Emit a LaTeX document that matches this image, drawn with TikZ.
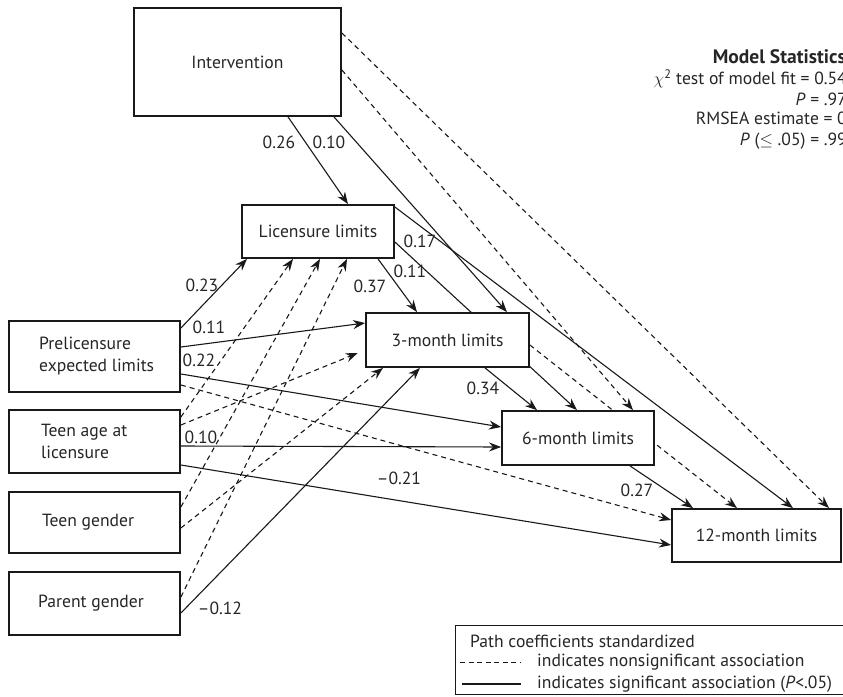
\documentclass[tikz,border=0pt]{standalone}
\usepackage{fontspec}
\setmainfont{PT Sans}
\usetikzlibrary{arrows.meta,calc}
\pgfdeclarelayer{bg}
\pgfsetlayers{bg,main}
\begin{document}
\begin{tikzpicture}[x=1pt,y=-1pt,
  box/.style={draw=black!90, line width=1.8pt, fill=white, inner sep=0pt, font=\fontsize{17.6}{22}\selectfont, text=black!85},
  lbl/.style={font=\fontsize{17.6}{22}\selectfont, inner sep=0pt, text=black!85},
  sig/.style={line width=1.1pt, draw=black!90, -{Stealth[length=12pt,width=9pt]}},
  ns/.style={sig, dash pattern=on 5pt off 4pt},
]
\useasboundingbox (0,0) rectangle (843,696);

% boxes
\node[box, minimum width=207pt, minimum height=108pt] (interv) at (237.5,62) {Intervention};
\node[box, minimum width=152pt, minimum height=53pt] (lic) at (318,231.5) {Licensure limits};
\node[box, minimum width=163pt, minimum height=54pt] (m3) at (447.5,340) {3-month limits};
\node[box, minimum width=152pt, minimum height=54pt] (m6) at (578,438) {6-month limits};
\node[box, minimum width=169pt, minimum height=53pt] (m12) at (756.5,535.5) {12-month limits};
\node[box, minimum width=171pt, minimum height=71pt] (pre) at (94.5,356.5) {};
\node[box, minimum width=171pt, minimum height=63pt] (age) at (94.5,441.5) {};
\node[box, minimum width=171pt, minimum height=61pt] (tg) at (94.5,522.5) {};
\node[box, minimum width=171pt, minimum height=63pt] (pg) at (94.5,603.5) {};
\node[lbl, anchor=west, align=left] (pret) at (39,356.5) {Prelicensure\\expected limits};
\node[lbl, anchor=west, align=left] (aget) at (41,441.5) {Teen age at\\licensure};
\node[lbl, anchor=west] (tgt) at (42,522.5) {Teen gender};
\node[lbl, anchor=west] (pgt) at (38,603.5) {Parent gender};

% connectors
\begin{pgfonlayer}{bg}
% significant
\draw[sig] (interv.south -| 288,0) -- (lic.north -| 348,0);
\draw[sig] (interv.south -| 334,0) -- (m3.north -| 507,0);
\draw[sig] (lic.south -| 378,0) -- (m3.north -| 417,0);
\draw[sig] (lic.east |- 0,207) -- (m12.north -| 793,0);
\draw[sig] (lic.east |- 0,242) -- (m6.north -| 577,0);
\draw[sig] (m3.south -| 485,0) -- (m6.north -| 537,0);
\draw[sig] (m6.south -| 630,0) -- (m12.north -| 693,0);
\draw[sig] (pre.east |- 0,328) -- (lic.south -| 247,0);
\draw[sig] (pre.east |- 0,347) -- (m3.west |- 0,323);
\draw[sig] (pre.east |- 0,374) -- (m6.west |- 0,427);
\draw[sig] (age.east |- 0,446) -- (m6.west |- 0,447);
\draw[sig] (age.east |- 0,465) -- (m12.west |- 0,545);
\draw[sig] (pg.east |- 0,613) -- (m3.south -| 420,0);
% nonsignificant
\draw[ns] (interv.east |- 0,33) -- (m12.north -| 829,0);
\draw[ns] (interv.east |- 0,70) -- (m6.north -| 633,0);
\draw[ns] (m3.east |- 0,345) -- (m12.north -| 737,0);
\draw[ns] (pre.east |- 0,385) -- (m12.west |- 0,520);
\draw[ns, shorten >=8pt] (age.east |- 0,425) -- (m3.west |- 0,350);
\draw[ns] (age.east |- 0,417) -- (lic.south -| 293,0);
\draw[ns] (tg.east |- 0,507) -- (lic.south -| 320,0);
\draw[ns] (tg.east |- 0,528) -- (m3.south -| 383,0);
\draw[ns] (pg.east |- 0,597) -- (lic.south -| 347,0);
\end{pgfonlayer}

% coefficient labels
\node[lbl] (c1) at (279,142) {0.26};
\node[lbl] (c2) at (329,142) {0.10};
\node[lbl] (c3) at (370,286) {0.37};
\node[lbl] (c4) at (420,241) {0.17};
\node[lbl] (c5) at (410,271) {0.11};
\node[lbl] (c6) at (483,388) {0.34};
\node[lbl] (c7) at (637,490) {0.27};
\node[lbl] (c8) at (202,285) {0.23};
\node[lbl] (c9) at (209,327) {0.11};
\node[lbl] (c10) at (199,360) {0.22};
\node[lbl] (c11) at (201,437) {0.10};
\node[lbl] (c12) at (399,478) {\textendash0.21};
\node[lbl] (c13) at (220,608) {\textendash0.12};

% model statistics
\node[lbl, anchor=east, font=\fontsize{19.5}{22}\selectfont\bfseries] (ms) at (846,57) {Model Statistics};
\node[lbl, anchor=east] (ms1) at (847,79) {$\chi$\textsuperscript{2} test of model fit = 0.54};
\node[lbl, anchor=east] (ms2) at (847,99) {\textit{P} = .97};
\node[lbl, anchor=east] (ms3) at (847,118) {RMSEA estimate = 0};
\node[lbl, anchor=east] (ms4) at (847,141) {\textit{P} ($\leq$ .05) = .99};

% legend
\node[draw=black!90, line width=1.1pt, inner sep=0pt, minimum width=420pt, minimum height=69pt, anchor=north west] (leg) at (455,625) {};
\node[lbl, anchor=west] (leg1) at (470,641) {Path coefficients standardized};
\coordinate (d1) at (460,662);
\coordinate (d2) at (521,662);
\draw[line width=1pt, dash pattern=on 5pt off 3.5pt, draw=black!90] (d1) -- (d2);
\node[lbl, anchor=west] (leg2) at (537,662) {indicates nonsignificant association};
\coordinate (s1) at (462,684);
\coordinate (s2) at (521,684);
\draw[line width=1.1pt, draw=black!90] (s1) -- (s2);
\node[lbl, anchor=west] (leg3) at (537,684) {indicates significant association (\textit{P}<.05)};
\end{tikzpicture}
\end{document}
